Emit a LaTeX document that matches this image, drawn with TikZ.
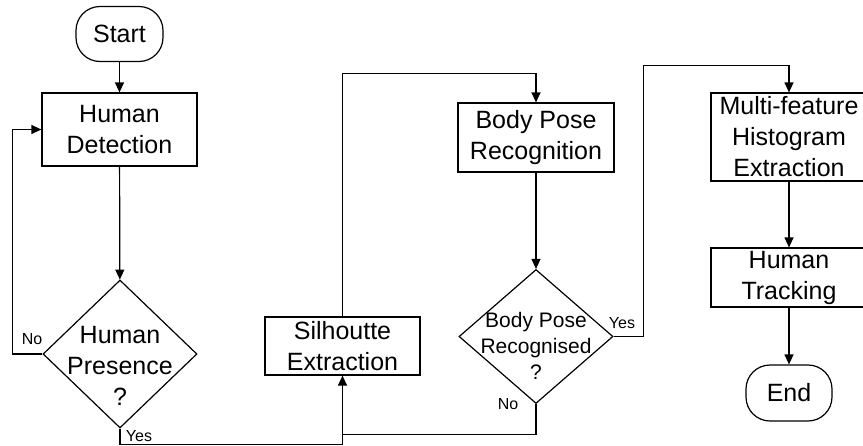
\documentclass[tikz,border=0pt]{standalone}
\usepackage{fontspec}
\setmainfont{Liberation Sans}
\usetikzlibrary{arrows.meta, shapes.geometric, positioning}

\tikzset{
	procbox/.style={draw, rectangle, inner sep=0pt, align=center,
		font=\fontsize{25}{31}\selectfont},
	terminal/.style={draw, rectangle, rounded corners=24pt, inner sep=0pt,
		minimum width=87pt, minimum height=55pt, font=\fontsize{25}{31}\selectfont},
	decision/.style={draw, diamond, inner sep=0pt, minimum width=154pt},
	dtext/.style={inner sep=0pt, align=center},
	arrow/.style={-{Triangle[length=10pt, width=9pt]}},
	lbl/.style={inner sep=0pt, font=\fontsize{16}{19}\selectfont},
}

\begin{document}
\begin{tikzpicture}[x=1pt, y=-1pt, line width=1.2pt]
	\useasboundingbox (0,0) rectangle (863,445);

	% Nodes
	\node[terminal] (start) at (119.5,34) {Start};
	\node[procbox, minimum width=155pt, minimum height=73pt] (hd) at (119.5,129.5) {Human\\Detection};
	\node[decision, minimum height=148pt] (hp) at (120,354) {};
	\node[dtext, font=\fontsize{25}{31}\selectfont] (hptext) at ([yshift=-12pt]hp.center) {Human\\Presence\\?};

	\node[procbox, minimum width=155pt, minimum height=58pt] (sil) at (342.5,346) {Silhoutte\\Extraction};
	\node[procbox, minimum width=156pt, minimum height=69pt] (bpr) at (536,137.5) {Body Pose\\Recognition};
	\node[decision, minimum height=134pt] (bp) at (536,336.5) {};
	\node[dtext, font=\fontsize{21}{26}\selectfont] (bptext) at ([yshift=-9pt]bp.center) {Body Pose\\Recognised\\?};

	\node[procbox, minimum width=156pt, minimum height=88pt] (mf) at (789,137) {Multi-feature\\Histogram\\Extraction};
	\node[procbox, minimum width=156pt, minimum height=59pt] (ht) at (789,277.5) {Human\\Tracking};
	\node[terminal, minimum width=86pt, minimum height=56pt] (end) at (789,393) {End};

	% Connectors
	\draw[arrow] (start) -- (hd);
	\draw[arrow] (hd) -- (hp);
	\draw[arrow] (hp.west) -- ++(-30,0) |- (hd.west);
	\draw[arrow] (hp.south) -- ++(0,16) -| (sil.south);
	\draw[arrow] (sil.north) -- ++(0,-243) -| (bpr.north);
	\draw[arrow] (bpr) -- (bp);
	\draw (bp.south) -- ++(0,30) -| (sil.south);
	\draw[arrow] (bp.east) -- ++(30,0) -- ++(0,-271) -| (mf.north);
	\draw[arrow] (mf) -- (ht);
	\draw[arrow] (ht) -- (end);

	% Labels
	\node[lbl] (hpno) at (32,339) {No};
	\node[lbl] (hpyes) at (139,436) {Yes};
	\node[lbl] (bpno) at (508,404) {No};
	\node[lbl] (bpyes) at (622,323) {Yes};
\end{tikzpicture}
\end{document}
